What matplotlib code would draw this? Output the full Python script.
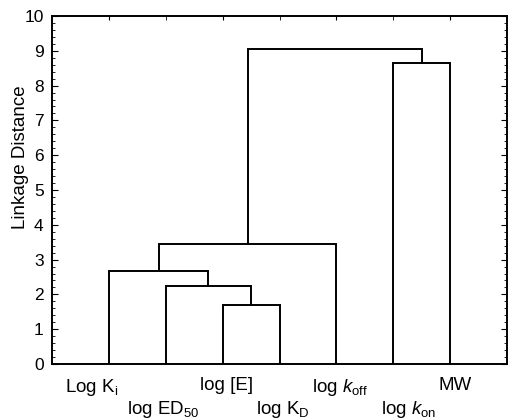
import numpy as np
import matplotlib
matplotlib.use("Agg")
import matplotlib.pyplot as plt
from matplotlib.ticker import MultipleLocator, FixedLocator
import matplotlib.transforms as mtransforms

plt.rcParams["font.family"] = "Liberation Sans"
plt.rcParams["mathtext.fontset"] = "custom"
plt.rcParams["mathtext.rm"] = "Liberation Sans"
plt.rcParams["mathtext.it"] = "Liberation Sans:italic"

# leaf order and labels
leaves = [r"Log K$_\mathregular{i}$", r"log ED$_\mathregular{50}$", "log [E]",
          r"log K$_\mathregular{D}$", r"log $\mathit{k}_\mathregular{off}$",
          r"log $\mathit{k}_\mathregular{on}$", "MW"]

# merges: (node a, node b, linkage distance); new nodes numbered after the leaves
merge_a = [2, 1, 0, 9, 5, 10]
merge_b = [3, 7, 8, 4, 6, 11]
merge_h = [1.69, 2.23, 2.67, 3.44, 8.64, 9.06]

# horizontal nudge of each leaf label in pixels (as placed in the original)
label_dx = [-17, -3, 4, 3, 4, 15, 5]

fig = plt.figure(figsize=(5.08, 4.19), dpi=100)
ax = fig.add_axes([0.1024, 0.1313, 0.8956, 0.8305])

xpos = {i: i + 1 for i in range(len(leaves))}
ypos = {i: 0.0 for i in range(len(leaves))}
for k, (a, b, h) in enumerate(zip(merge_a, merge_b, merge_h)):
    node = len(leaves) + k
    ax.plot([xpos[a], xpos[a], xpos[b], xpos[b]], [ypos[a], h, h, ypos[b]],
            color="black", lw=1.4, solid_joinstyle="miter")
    xpos[node] = (xpos[a] + xpos[b]) / 2
    ypos[node] = h

ax.set_xlim(0, len(leaves) + 1)
ax.set_ylim(0, 10)

# odd leaves on the upper row, even leaves on the lower row
pos = np.arange(1, len(leaves) + 1)
ax.xaxis.set_major_locator(FixedLocator(pos[0::2]))
ax.xaxis.set_minor_locator(FixedLocator(pos[1::2]))
ax.set_xticklabels(leaves[0::2])
ax.set_xticklabels(leaves[1::2], minor=True)
ax.tick_params(axis="x", which="major", pad=9.5, labelsize=13.5)
ax.tick_params(axis="x", which="minor", pad=25, labelsize=13.5)
ax.tick_params(axis="x", which="both", direction="in", bottom=False, top=True, length=3)

xlabels = ax.get_xticklabels() + ax.get_xticklabels(minor=True)
dx = label_dx[0::2] + label_dx[1::2]
for l, d in zip(xlabels, dx):
    l.set_transform(l.get_transform() + mtransforms.ScaledTranslation(d / 100, 0, fig.dpi_scale_trans))

ax.yaxis.set_major_locator(MultipleLocator(1))
ax.yaxis.set_minor_locator(MultipleLocator(0.2))
ax.tick_params(axis="y", which="both", direction="in", left=True, right=True, labelsize=12.5, pad=6)
ax.tick_params(axis="y", which="major", length=4)
ax.tick_params(axis="y", which="minor", length=2.5)
ax.set_ylabel("Linkage Distance", fontsize=13.5)
ax.yaxis.set_label_coords(-0.05, 0.595)

for s in ax.spines.values():
    s.set_linewidth(1.4)

fig.savefig("out.png", dpi=100)
